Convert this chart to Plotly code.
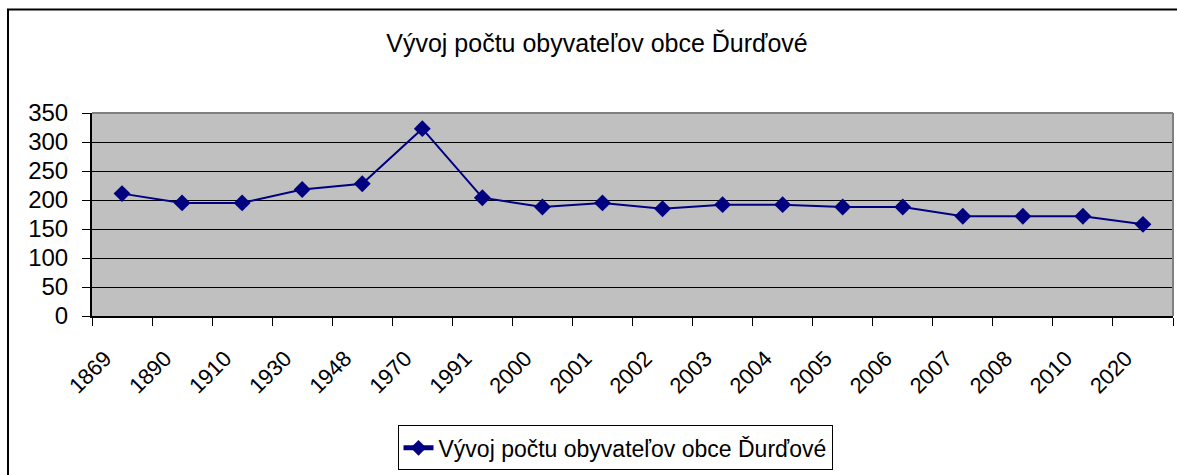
import plotly.graph_objects as go

years = ["1869", "1890", "1910", "1930", "1948", "1970", "1991", "2000", "2001",
         "2002", "2003", "2004", "2005", "2006", "2007", "2008", "2010", "2020"]
population = [211, 195, 195, 218, 228, 323, 204, 188, 195,
              185, 192, 192, 188, 188, 172, 172, 172, 158]
series_name = "Vývoj počtu obyvateľov obce Ďurďové"
title_text = "Vývoj počtu obyvateľov obce Ďurďové"
y_ticks = [0, 50, 100, 150, 200, 250, 300, 350]

W, H = 1177, 475
L, R, T, B = 92, 4, 113, 156
pw = W - L - R
ph = H - T - B

def px_x(p):
    return (p - L) / pw

def px_y(p):
    return (H - B - p) / ph

FONT = "Liberation Sans, Arial, sans-serif"

fig = go.Figure()
fig.add_trace(go.Scatter(
    x=years, y=population, mode="lines+markers", name=series_name,
    line=dict(color="#000080", width=2),
    marker=dict(symbol="diamond", size=13, color="#000080"),
))

fig.update_layout(
    width=W, height=H,
    margin=dict(l=L, r=R, t=T, b=B),
    paper_bgcolor="white",
    plot_bgcolor="#C0C0C0",
    font=dict(family=FONT, size=20, color="black"),
    title=dict(text=title_text, x=597 / W, xanchor="center",
               y=1 - 43 / H, yanchor="middle",
               font=dict(family=FONT, size=25, color="black")),
    showlegend=True,
    legend=dict(
        x=px_x(615), xanchor="center", y=px_y(430), yanchor="top",
        bordercolor="black", borderwidth=1, bgcolor="white",
        font=dict(family=FONT, size=23, color="black"),
        itemsizing="constant",
    ),
    xaxis=dict(
        type="category", range=[-0.5, len(years) - 0.5],
        tickson="boundaries", ticks="outside", ticklen=8,
        tickcolor="black", tickwidth=1, tickangle=-45,
        ticklabelshift=-17, ticklabelstandoff=19,
        showline=True, linecolor="black", linewidth=2,
        showgrid=False, tickfont=dict(size=22),
    ),
    yaxis=dict(
        range=[0, 350], tickvals=y_ticks, ticks="outside", ticklen=8,
        tickcolor="black", showline=True, linecolor="black", linewidth=2,
        ticklabelstandoff=9,
        showgrid=True, gridcolor="black", gridwidth=1, zeroline=False,
        tickfont=dict(size=24),
    ),
    shapes=[
        dict(type="line", xref="paper", yref="paper", x0=0, x1=1, y0=1, y1=1,
             line=dict(color="#808080", width=2)),
        dict(type="line", xref="paper", yref="paper", x0=1, x1=1, y0=0, y1=1,
             line=dict(color="#808080", width=2)),
        dict(type="rect", xref="paper", yref="paper",
             x0=px_x(8), x1=px_x(1185), y0=px_y(8), y1=px_y(490),
             line=dict(color="black", width=2), fillcolor="rgba(0,0,0,0)"),
    ],
)

fig.write_html(
    "out.html",
    config={"displayModeBar": False},
    post_script="document.body.style.margin='0';document.body.style.overflow='hidden';",
)
